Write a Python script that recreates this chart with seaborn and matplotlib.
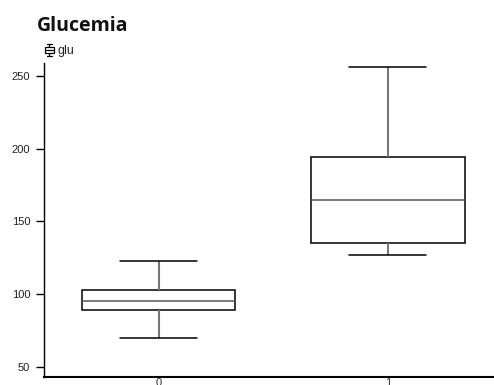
import matplotlib
matplotlib.use("Agg")
import matplotlib.pyplot as plt
from matplotlib.legend_handler import HandlerBase
from matplotlib.patches import Rectangle
from matplotlib.lines import Line2D
import seaborn as sns
import pandas as pd

# Five-number summaries per group: lower whisker, Q1, median, Q3, upper whisker
groups = ["0", "1"]
glu_0 = [70, 89, 95, 103, 123]
glu_1 = [127, 135, 165, 194, 256]
y_ticks = [50, 100, 150, 200, 250]
title = "Glucemia"
series_name = "glu"

df = pd.DataFrame({
    "grupo": [groups[0]] * len(glu_0) + [groups[1]] * len(glu_1),
    "glu": glu_0 + glu_1,
})

sns.set_style("white")
plt.rcParams["font.family"] = ["Liberation Sans", "DejaVu Sans"]

fig = plt.figure(figsize=(4.94, 3.85), dpi=100)
ax = fig.add_axes([44 / 494, 8 / 385, 458.5 / 494, 314 / 385])

sns.boxplot(
    data=df, x="grupo", y="glu", order=groups, ax=ax, width=0.67,
    whis=1.5, fliersize=0,
    boxprops=dict(facecolor="white", edgecolor="black", linewidth=1.1),
    whiskerprops=dict(color="#777777", linewidth=1.5),
    capprops=dict(color="black", linewidth=1.1),
    medianprops=dict(color="#555555", linewidth=1.1),
)

ax.set_xlim(-0.5, 1.5)
ax.set_ylim(43.1, 258.9)
ax.set_yticks(y_ticks)
ax.set_yticklabels([str(v) for v in y_ticks])
ax.set_xlabel("")
ax.set_ylabel("")
ax.tick_params(axis="y", length=6, width=1, color="black", pad=4,
               labelsize=8, labelcolor="#222222", left=True)
ax.tick_params(axis="x", length=0, pad=1, labelsize=8, labelcolor="#333333")
for side in ["top", "right"]:
    ax.spines[side].set_visible(False)
ax.spines["left"].set_color("black")
ax.spines["left"].set_linewidth(1.0)
ax.spines["bottom"].set_color("black")
ax.spines["bottom"].set_linewidth(1.5)


class MiniBoxHandler(HandlerBase):
    def create_artists(self, legend, orig_handle, xdescent, ydescent,
                       width, height, fontsize, trans):
        cx = width / 2 - xdescent
        h = height * 1.35
        y0 = -ydescent - 0.2 * height
        box = Rectangle((cx - width * 0.42, y0 + h * 0.3), width * 0.84, h * 0.4,
                        facecolor="white", edgecolor="black", lw=0.9,
                        transform=trans)
        med = Line2D([cx - width * 0.42, cx + width * 0.42],
                     [y0 + h * 0.5] * 2, color="black", lw=0.9, transform=trans)
        wl = Line2D([cx, cx], [y0, y0 + h], color="black", lw=0.9,
                    transform=trans, zorder=0)
        ct = Line2D([cx - width * 0.25, cx + width * 0.25], [y0 + h] * 2,
                    color="black", lw=0.9, transform=trans)
        cb = Line2D([cx - width * 0.25, cx + width * 0.25], [y0] * 2,
                    color="black", lw=0.9, transform=trans)
        return [wl, box, med, ct, cb]


handle = Rectangle((0, 0), 1, 1)
fig.legend([handle], [series_name], handler_map={Rectangle: MiniBoxHandler()},
           loc="upper left", bbox_to_anchor=(44 / 494, 1 - 45 / 385),
           frameon=False, fontsize=9, handlelength=0.85, handleheight=0.8,
           handletextpad=0.25, borderpad=0, borderaxespad=0,
           labelcolor="#222222")

fig.text(37 / 494, 1 - 31 / 385, title, fontsize=14, fontweight="bold",
         family=["Open Sans", "DejaVu Sans"], color="#111111",
         ha="left", va="baseline")

fig.savefig("out.png", dpi=100)
